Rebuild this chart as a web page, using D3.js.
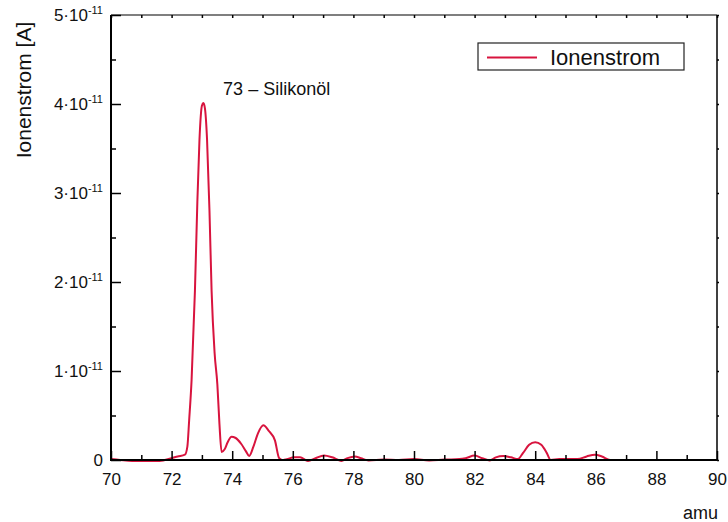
<!DOCTYPE html>
<html>
<head>
<meta charset="utf-8">
<script src="https://cdn.jsdelivr.net/npm/d3@7"></script>
<style>
  html, body { margin: 0; padding: 0; background: #fff; }
  svg { display: block; font-family: "Liberation Sans", Arial, sans-serif; }
</style>
</head>
<body>
<div id="chart"></div>
<script>
// ---------------- data ----------------
// mass numbers [amu]
const amu = [
  70.0, 70.3, 70.7, 71.2, 71.6, 72.0, 72.2, 72.44, 72.52, 72.58,
  72.66, 72.77, 72.85, 72.92, 73.0, 73.05, 73.1, 73.17, 73.25, 73.32,
  73.42, 73.51, 73.58, 73.65, 73.75, 73.85, 73.98, 74.1, 74.3, 74.45,
  74.56, 74.7, 74.85, 75.03, 75.2, 75.41, 75.55, 75.65, 75.8, 76.05,
  76.24, 76.5, 76.75, 77.03, 77.3, 77.6, 77.8, 78.05, 78.25, 78.5,
  79.0, 79.5, 80.0, 80.5, 81.0, 81.5, 81.7, 82.0, 82.25, 82.5,
  82.7, 82.95, 83.2, 83.43, 83.6, 83.8, 84.0, 84.2, 84.38, 84.51,
  84.8, 85.0, 85.4, 85.7, 85.97, 86.2, 86.47, 87.0, 88.0, 89.0, 90.0
];
// ion current in units of 1e-11 A
const ionCurrent = [
  0.01, 0.0, -0.01, -0.01, -0.01, 0.02, 0.04, 0.06, 0.15, 0.45,
  0.9, 1.9, 2.9, 3.6, 3.98, 4.01, 3.95, 3.6, 2.8, 1.9,
  1.2, 0.85, 0.4, 0.09, 0.12, 0.2, 0.26, 0.25, 0.18, 0.1,
  0.045, 0.15, 0.3, 0.39, 0.33, 0.22, 0.02, 0.0, 0.01, 0.03,
  0.03, -0.01, 0.02, 0.05, 0.03, -0.01, 0.02, 0.04, 0.02, -0.005,
  0.005, 0.0, 0.01, -0.005, 0.005, 0.01, 0.02, 0.05, 0.02, -0.005,
  0.03, 0.045, 0.03, 0.01, 0.08, 0.17, 0.2, 0.17, 0.08, 0.0,
  0.01, 0.01, 0.01, 0.04, 0.06, 0.04, 0.0, 0.0, 0.0, 0.0, 0.0
];
const xTicks = [70, 72, 74, 76, 78, 80, 82, 84, 86, 88, 90];
const yTicks = [0, 1, 2, 3, 4, 5];   // mantissa of n·10^-11
const seriesName = "Ionenstrom";
const peakLabel = "73 – Silikonöl";

// ---------------- layout ----------------
const W = 728, H = 522;
const plot = { left: 111, right: 717, top: 15, bottom: 460 };
const red = "#d8143e";
const ink = "#111";

const svg = d3.select("#chart").append("svg")
  .attr("width", W).attr("height", H);

const x = d3.scaleLinear().domain([70, 90]).range([plot.left, plot.right]);
const y = d3.scaleLinear().domain([0, 5]).range([plot.bottom, plot.top]);

// ---------------- curve ----------------
const points = amu.map((a, i) => ({ a, v: ionCurrent[i] }));
svg.append("path")
  .datum(points)
  .attr("fill", "none")
  .attr("stroke", red)
  .attr("stroke-width", 2)
  .attr("stroke-linejoin", "round")
  .attr("d", d3.line().x(d => x(d.a)).y(d => y(d.v)).curve(d3.curveMonotoneX));

// ---------------- axes ----------------
// bottom: major ticks on even amu, minor on odd, pointing inward
const bottom = svg.append("g").attr("transform", `translate(0,${plot.bottom})`);
bottom.call(d3.axisBottom(x).tickValues(d3.range(71, 90, 2)).tickSize(-5).tickFormat(""));
const bottomMajor = bottom.append("g")
  .call(d3.axisBottom(x).tickValues(xTicks).tickSize(-9).tickPadding(13));

// left: major every 1e-11, minor at halves
const left = svg.append("g").attr("transform", `translate(${plot.left},0)`);
left.call(d3.axisLeft(y).tickValues(d3.range(0.5, 5, 1)).tickSize(-5).tickFormat(""));
left.append("g").call(d3.axisLeft(y).tickValues(yTicks).tickSize(-10).tickFormat(""));

// top and right: small mirrored ticks
svg.append("g").attr("transform", `translate(0,${plot.top})`)
  .call(d3.axisTop(x).tickValues(d3.range(70, 91, 1)).tickSize(-3).tickFormat(""));
svg.append("g").attr("transform", `translate(${plot.right},0)`)
  .call(d3.axisRight(y).tickValues(d3.range(0, 5.01, 0.5)).tickSize(2).tickFormat(""));

svg.selectAll(".domain").remove();
svg.selectAll(".tick line").attr("stroke", "#000").attr("stroke-width", 1.5);

// frame
svg.append("line").attr("x1", plot.left).attr("x2", plot.right).attr("y1", plot.top).attr("y2", plot.top)
  .attr("stroke", "#000").attr("stroke-width", 1.2);
svg.append("line").attr("x1", plot.right).attr("x2", plot.right).attr("y1", plot.top).attr("y2", plot.bottom)
  .attr("stroke", "#000").attr("stroke-width", 1.5);
svg.append("line").attr("x1", plot.left).attr("x2", plot.left).attr("y1", plot.top).attr("y2", plot.bottom + 1)
  .attr("stroke", "#000").attr("stroke-width", 2);
svg.append("line").attr("x1", plot.left - 1).attr("x2", plot.right + 1).attr("y1", plot.bottom).attr("y2", plot.bottom)
  .attr("stroke", "#000").attr("stroke-width", 2);

// tick label styling
bottomMajor.selectAll("text").attr("fill", ink).attr("font-size", 17)
  .attr("font-family", "Liberation Sans, Arial, sans-serif");

// y tick labels written as n·10^-11
yTicks.forEach(t => {
  const txt = svg.append("text")
    .attr("x", plot.left - 8)
    .attr("y", y(t) + 6)
    .attr("text-anchor", "end")
    .attr("font-size", 17)
    .attr("fill", ink);
  if (t === 0) {
    txt.text("0");
  } else {
    txt.append("tspan").text(`${t}·10`);
    txt.append("tspan").attr("dy", -7).attr("font-size", 11).text("-11");
  }
});

// axis titles
svg.append("text")
  .attr("transform", `translate(31,90) rotate(-90)`)
  .attr("text-anchor", "middle")
  .attr("font-size", 21)
  .attr("fill", ink)
  .text("Ionenstrom [A]");

svg.append("text")
  .attr("x", plot.right + 1)
  .attr("y", 519)
  .attr("text-anchor", "end")
  .attr("font-size", 18)
  .attr("fill", ink)
  .text("amu");

// peak annotation
svg.append("text")
  .attr("x", x(73.7))
  .attr("y", 95)
  .attr("font-size", 18)
  .attr("fill", ink)
  .text(peakLabel);

// ---------------- legend ----------------
const legend = svg.append("g").attr("transform", "translate(478,43)");
legend.append("rect")
  .attr("width", 206).attr("height", 27)
  .attr("fill", "#fff").attr("stroke", "#222").attr("stroke-width", 1.2);
legend.append("line")
  .attr("x1", 9).attr("x2", 59).attr("y1", 14.5).attr("y2", 14.5)
  .attr("stroke", red).attr("stroke-width", 2);
legend.append("text")
  .attr("x", 72).attr("y", 22)
  .attr("font-size", 22)
  .attr("fill", ink)
  .text(seriesName);
</script>
</body>
</html>
